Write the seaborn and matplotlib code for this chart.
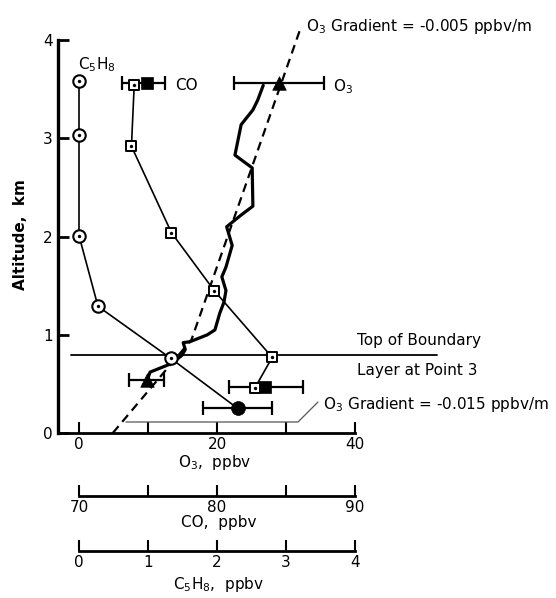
import numpy as np
import matplotlib
matplotlib.use("Agg")
import matplotlib.pyplot as plt
import seaborn as sns

# ---------------- data ----------------
# thick O3 profile (ppbv) vs altitude (km)
o3_profile_val = [26.7, 25.9, 25.2, 23.5, 22.6, 25.1, 25.2, 23.5, 21.4, 22.2, 21.3, 20.7,
                  21.3, 21.0, 20.4, 19.7, 18.6, 16.1, 15.1, 15.4, 14.9, 13.5, 10.3, 9.9]
o3_profile_alt = [3.54, 3.39, 3.29, 3.14, 2.83, 2.70, 2.31, 2.22, 2.10, 1.91, 1.69, 1.59,
                  1.45, 1.33, 1.22, 1.05, 1.00, 0.93, 0.92, 0.85, 0.79, 0.71, 0.62, 0.54]
# dashed O3 gradient line
grad_val = [4.9, 16.3, 32.0]
grad_alt = [0.0, 0.95, 4.1]
# O3 mean points (triangles) with error bars
o3_pt_val = [29.0, 9.9]
o3_pt_alt = [3.56, 0.54]
o3_err_lo = [6.5, 2.7]
o3_err_hi = [6.5, 2.4]
# CO profile (ppbv)
co_val = [74.0, 73.8, 76.7, 79.8, 84.0, 82.75]
co_alt = [3.54, 2.92, 2.04, 1.45, 0.77, 0.46]
co_mean_val = [74.95, 83.5]
co_mean_alt = [3.56, 0.47]
co_err_lo = [1.85, 2.6]
co_err_hi = [1.25, 2.7]
# C5H8 profile (ppbv)
c5_val = [0.0, 0.0, 0.0, 0.275, 1.33]
c5_alt = [3.58, 3.03, 2.01, 1.29, 0.76]
c5_mean_val = [2.3]
c5_mean_alt = [0.25]
c5_err = [0.5]
# boundary layer top
bl_alt = 0.79
# axis ticks
alt_ticks = [0, 1, 2, 3, 4]
o3_ticks = [0, 10, 20, 30, 40]
o3_ticklabels = ["0", "", "20", "", "40"]
co_ticks = [70, 75, 80, 85, 90]
co_ticklabels = ["70", "", "80", "", "90"]
c5_ticks = [0, 1, 2, 3, 4]
c5_ticklabels = ["0", "1", "2", "3", "4"]

# ---------------- style ----------------
sns.set_style("white")
plt.rcParams["font.family"] = ["DejaVu Sans"]
plt.rcParams["mathtext.default"] = "regular"
plt.rcParams["text.color"] = "black"
plt.rcParams["axes.labelcolor"] = "black"
plt.rcParams["xtick.color"] = "black"
plt.rcParams["ytick.color"] = "black"
plt.rcParams["xtick.bottom"] = True
plt.rcParams["ytick.left"] = True

W, H = 556, 598
fig = plt.figure(figsize=(W / 100, H / 100), dpi=100)


def fx(px):
    return px / W


def fy(py):
    return 1 - py / H


# pixel mapping of the reference
X0, SX = 79.0, 6.9        # O3 = 0 at px 79, 6.9 px per ppbv
Y0, SY = 433.0, 98.2      # alt = 0 at py 433, 98.2 px per km


def o3x(px):
    return (px - X0) / SX


def alty(py):
    return (Y0 - py) / SY


left_px, right_px, top_px = 58, 556, 10
xlim = (o3x(left_px), o3x(right_px))
ylim = (0, alty(top_px))

ax = fig.add_axes([fx(left_px), fy(Y0), fx(right_px) - fx(left_px), fy(top_px) - fy(Y0)])
ax.set_xlim(*xlim)
ax.set_ylim(*ylim)
for s in ["top", "right"]:
    ax.spines[s].set_visible(False)
ax.spines["left"].set_linewidth(2.4)
ax.spines["left"].set_bounds(0, 4)
ax.spines["bottom"].set_linewidth(2.0)
ax.spines["bottom"].set_bounds(xlim[0], 40)
for s in ["left", "bottom"]:
    ax.spines[s].set_color("black")
ax.set_yticks(alt_ticks)
ax.set_yticklabels([str(t) for t in alt_ticks])
ax.set_xticks(o3_ticks)
ax.set_xticklabels(o3_ticklabels)
ax.tick_params(axis="y", left=True, direction="in", length=8, width=2, pad=4,
               labelsize=11, colors="black")
ax.tick_params(axis="x", bottom=True, direction="in", length=8, width=1.5, pad=3,
               labelsize=11, colors="black")
ax.set_xlabel("")
ax.set_ylabel("")

lw_thin = 1.2
# dashed gradient line
sns.lineplot(x=grad_val, y=grad_alt, sort=False, estimator=None, ax=ax,
             color="black", linewidth=1.6, linestyle=(0, (4, 2.6)))
# thick O3 profile
sns.lineplot(x=o3_profile_val, y=o3_profile_alt, sort=False, estimator=None, ax=ax,
             color="black", linewidth=2.3)
# boundary layer line
ax.plot([o3x(71), o3x(437)], [bl_alt, bl_alt], color="black", linewidth=1.3)
# annotation leader for lower gradient
ax.plot([o3x(126), o3x(298), o3x(318)], [alty(422), alty(422), alty(402)],
        color="#555555", linewidth=0.9)
# O3 mean points
ax.errorbar(o3_pt_val, o3_pt_alt, xerr=[o3_err_lo, o3_err_hi], fmt="none",
            ecolor="black", elinewidth=1.6, capsize=5, capthick=1.6, zorder=4)
sns.scatterplot(x=o3_pt_val, y=o3_pt_alt, marker="^", s=95, color="black",
                edgecolor="black", linewidth=0.5, ax=ax, zorder=5)

# CO on its own scale (twin x axis)
ax_co = ax.twiny()
ax_co.set_xlim(70 + xlim[0] / 2, 70 + xlim[1] / 2)
ax_co.set_ylim(*ylim)
ax_co.axis("off")
sns.lineplot(x=co_val, y=co_alt, sort=False, estimator=None, ax=ax_co,
             color="black", linewidth=lw_thin)
ax_co.errorbar(co_mean_val, co_mean_alt, xerr=[co_err_lo, co_err_hi], fmt="none",
               ecolor="black", elinewidth=1.6, capsize=5, capthick=1.6, zorder=3)
sns.scatterplot(x=co_mean_val, y=co_mean_alt, marker="s", s=80, color="black",
                edgecolor="black", linewidth=0.5, ax=ax_co, zorder=4)
sns.scatterplot(x=co_val, y=co_alt, marker="s", s=62, color="white",
                edgecolor="black", linewidth=1.4, ax=ax_co, zorder=5)
sns.scatterplot(x=co_val, y=co_alt, marker="o", s=6, color="black",
                edgecolor="black", linewidth=0, ax=ax_co, zorder=6)

# C5H8 on its own scale (twin x axis)
ax_c5 = ax.twiny()
ax_c5.set_xlim(xlim[0] / 10, xlim[1] / 10)
ax_c5.set_ylim(*ylim)
ax_c5.axis("off")
sns.lineplot(x=c5_val + c5_mean_val, y=c5_alt + c5_mean_alt, sort=False, estimator=None,
             ax=ax_c5, color="black", linewidth=lw_thin)
ax_c5.errorbar(c5_mean_val, c5_mean_alt, xerr=c5_err, fmt="none",
               ecolor="black", elinewidth=1.6, capsize=5, capthick=1.6, zorder=3)
sns.scatterplot(x=c5_mean_val, y=c5_mean_alt, marker="o", s=100, color="black",
                edgecolor="black", linewidth=0.5, ax=ax_c5, zorder=4)
sns.scatterplot(x=c5_val, y=c5_alt, marker="o", s=80, color="white",
                edgecolor="black", linewidth=1.5, ax=ax_c5, zorder=5)
sns.scatterplot(x=c5_val, y=c5_alt, marker="o", s=6, color="black",
                edgecolor="black", linewidth=0, ax=ax_c5, zorder=6)

# ---------------- texts ----------------
fs = 11
ax.text(o3x(306), alty(31.5), "O$_3$ Gradient = -0.005 ppbv/m", fontsize=fs,
        ha="left", va="baseline", color="black")
ax.text(o3x(323), alty(409.5), "O$_3$ Gradient = -0.015 ppbv/m", fontsize=fs,
        ha="left", va="baseline", color="black")
ax.text(o3x(357), alty(344.5), "Top of Boundary", fontsize=fs, ha="left", va="baseline",
        color="black")
ax.text(o3x(357), alty(375.5), "Layer at Point 3", fontsize=fs, ha="left", va="baseline",
        color="black")
ax.text(o3x(78), alty(69.5), "C$_5$H$_8$", fontsize=fs, ha="left", va="baseline",
        color="black")
ax.text(o3x(175), alty(89.5), "CO", fontsize=fs, ha="left", va="baseline", color="black")
ax.text(o3x(333), alty(91.5), "O$_3$", fontsize=fs, ha="left", va="baseline", color="black")

fig.text(fx(21), fy(235), "Altitude,  km", rotation=90, fontsize=11, fontweight="bold",
         ha="center", va="center", color="black")
fig.text(fx(215), fy(463), "O$_3$,  ppbv", fontsize=fs, ha="center", va="center",
         color="black")


# ---------------- secondary scale bars ----------------
def scale_axis(py, lim, ticks, labels, label, label_py):
    a = fig.add_axes([fx(left_px), fy(py), fx(right_px) - fx(left_px), 0.0001])
    a.set_xlim(*lim)
    a.set_ylim(0, 1)
    for s in ["top", "right", "left"]:
        a.spines[s].set_visible(False)
    a.spines["bottom"].set_linewidth(2.0)
    a.spines["bottom"].set_color("black")
    a.spines["bottom"].set_bounds(ticks[0], ticks[-1])
    a.set_yticks([])
    a.set_xticks(ticks)
    a.set_xticklabels(labels)
    a.tick_params(axis="x", bottom=True, direction="in", length=8, width=1.5, pad=3,
                  labelsize=11, colors="black")
    a.patch.set_visible(False)
    fig.text(fx(219), fy(label_py), label, fontsize=fs, ha="center", va="center",
             color="black")
    return a


scale_axis(496, (70 + xlim[0] / 2, 70 + xlim[1] / 2), co_ticks, co_ticklabels,
           "CO,  ppbv", 522)
scale_axis(551, (xlim[0] / 10, xlim[1] / 10), c5_ticks, c5_ticklabels,
           "C$_5$H$_8$,  ppbv", 585)

fig.savefig("out.png", dpi=100)
